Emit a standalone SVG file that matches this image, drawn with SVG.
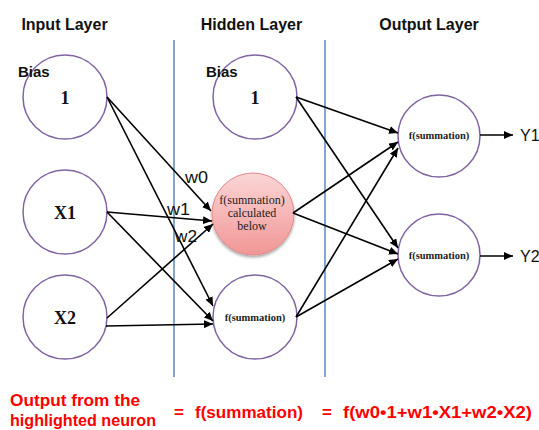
<svg xmlns="http://www.w3.org/2000/svg" width="539" height="430" viewBox="0 0 539 430">
<style>
.title{font-family:"Liberation Sans",Arial,sans-serif;font-weight:bold;font-size:16px;fill:#111;text-anchor:middle}
.bias{font-family:"Liberation Sans",Arial,sans-serif;font-weight:bold;font-size:15px;fill:#111}
.node{fill:#fff;stroke:#8064a2;stroke-width:1.5}
.nt{font-family:"Liberation Serif","Times New Roman",serif;font-weight:bold;font-size:18px;fill:#111;text-anchor:middle}
.st{font-family:"Liberation Serif","Times New Roman",serif;font-weight:bold;font-size:10.5px;fill:#222;text-anchor:middle}
.ht{font-family:"Liberation Serif","Times New Roman",serif;font-size:12px;fill:#222;text-anchor:middle}
.w{font-family:"Liberation Sans",Arial,sans-serif;font-size:16px;fill:#111}
.conn line{stroke:#000;stroke-width:1.6;marker-end:url(#ah)}
.div{stroke:#4f81bd;stroke-width:1.4}
.red{font-family:"Liberation Sans",Arial,sans-serif;font-weight:bold;font-size:17px;fill:#ff0000}
</style>
<defs>
<marker id="ah" markerUnits="userSpaceOnUse" markerWidth="9" markerHeight="8" refX="9" refY="4" orient="auto">
<path d="M0,0 L9,4 L0,8 z" fill="#000"/>
</marker>
<linearGradient id="pink" x1="0" y1="0" x2="0" y2="1">
<stop offset="0" stop-color="#fbd6d6"/>
<stop offset="1" stop-color="#f19696"/>
</linearGradient>
<filter id="sh" x="-20%" y="-20%" width="140%" height="140%">
<feDropShadow dx="0" dy="2" stdDeviation="1.5" flood-color="#000" flood-opacity="0.35"/>
</filter>
</defs>
<rect width="539" height="430" fill="#fff"/>

<text class="title" x="64.5" y="30">Input Layer</text>
<text class="title" x="251.5" y="30">Hidden Layer</text>
<text class="title" x="429" y="30">Output Layer</text>

<line class="div" x1="174" y1="40" x2="174" y2="377"/>
<line class="div" x1="325" y1="40" x2="325" y2="377"/>

<g id="in-bias">
<circle class="node" cx="65" cy="97" r="42"/>
<text class="bias" x="18" y="77">Bias</text>
<text class="nt" x="65" y="104">1</text>
</g>
<g id="in-x1">
<circle class="node" cx="65" cy="212" r="42"/>
<text class="nt" x="65" y="219">X1</text>
</g>
<g id="in-x2">
<circle class="node" cx="65" cy="317" r="42"/>
<text class="nt" x="65" y="324">X2</text>
</g>
<g id="hid-bias">
<circle class="node" cx="255" cy="97" r="42"/>
<text class="bias" x="206" y="77">Bias</text>
<text class="nt" x="255" y="104">1</text>
</g>
<g id="hid-h">
<circle cx="253" cy="214" r="41" fill="url(#pink)" stroke="#e38a8a" stroke-width="1" filter="url(#sh)"/>
<text class="ht" x="252" y="204">f(summation)</text>
<text class="ht" x="252" y="217">calculated</text>
<text class="ht" x="252" y="230">below</text>
</g>
<g id="hid-s">
<circle class="node" cx="255" cy="317" r="42"/>
<text class="st" x="255" y="321">f(summation)</text>
</g>
<g id="out-1">
<circle class="node" cx="439" cy="136" r="41"/>
<text class="st" x="439" y="139">f(summation)</text>
</g>
<g id="out-2">
<circle class="node" cx="439" cy="255" r="41"/>
<text class="st" x="439" y="259">f(summation)</text>
</g>

<g id="connectors" class="conn">
<line x1="107" y1="97" x2="211" y2="211"/>
<line x1="107" y1="97" x2="213" y2="306"/>
<line x1="107" y1="212" x2="212" y2="221"/>
<line x1="107" y1="212" x2="213" y2="321"/>
<line x1="107" y1="318" x2="213" y2="224"/>
<line x1="106" y1="326" x2="213" y2="324"/>
<line x1="296" y1="97" x2="398" y2="133"/>
<line x1="296" y1="97" x2="398" y2="248"/>
<line x1="293" y1="213" x2="398" y2="142"/>
<line x1="293" y1="213" x2="398" y2="254"/>
<line x1="296" y1="317" x2="398" y2="148"/>
<line x1="296" y1="317" x2="398" y2="259"/>
<line x1="480" y1="135" x2="513" y2="135"/>
<line x1="480" y1="256" x2="513" y2="256"/>
</g>

<text class="w" x="185" y="183" textLength="23" lengthAdjust="spacingAndGlyphs">w0</text>
<text class="w" x="167" y="215" textLength="23" lengthAdjust="spacingAndGlyphs">w1</text>
<text class="w" x="175" y="242" textLength="22" lengthAdjust="spacingAndGlyphs">w2</text>

<text class="w" x="520" y="141">Y1</text>
<text class="w" x="520" y="262">Y2</text>

<text class="red" x="10" y="406" textLength="130" lengthAdjust="spacingAndGlyphs">Output from the</text>
<text class="red" x="10" y="426" textLength="146" lengthAdjust="spacingAndGlyphs">highlighted neuron</text>
<text class="red" x="174" y="418">=</text>
<text class="red" x="195" y="418" textLength="108" lengthAdjust="spacingAndGlyphs">f(summation)</text>
<text class="red" x="322" y="418">=</text>
<text class="red" x="343" y="418" textLength="189" lengthAdjust="spacingAndGlyphs">f(w0•1+w1•X1+w2•X2)</text>
</svg>
